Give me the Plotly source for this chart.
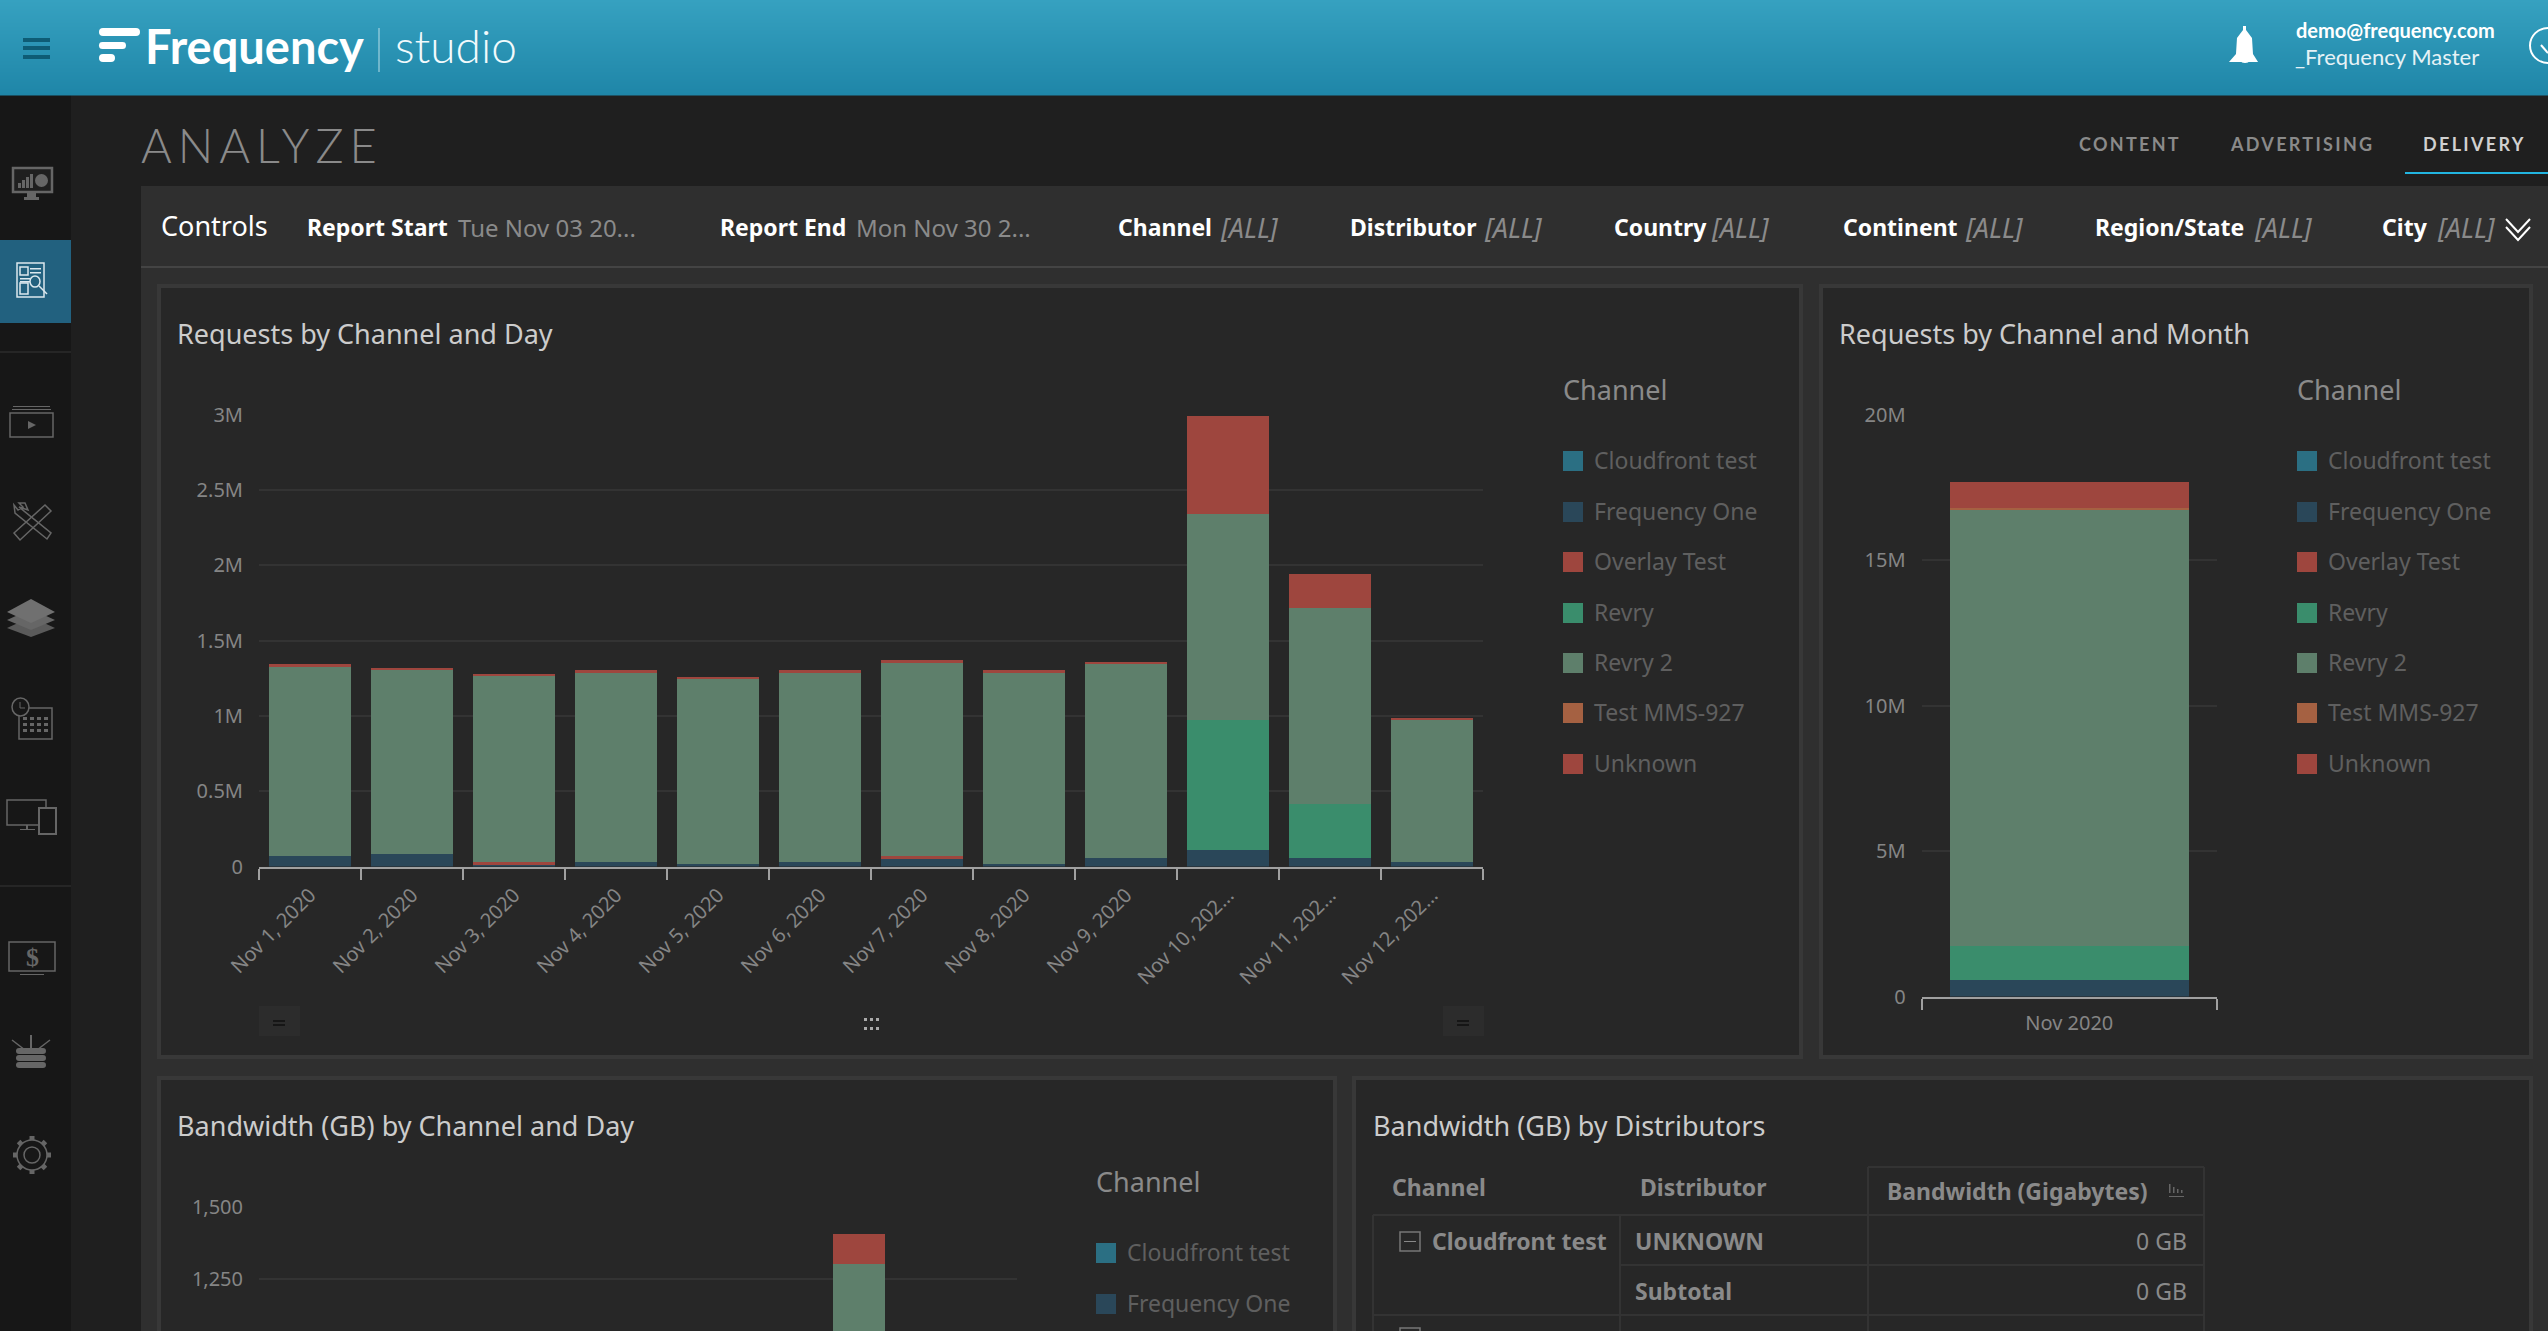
import math
import plotly.graph_objects as go

W = 2548
H = 1331

channels = ["Cloudfront test", "Frequency One", "Overlay Test", "Revry", "Revry 2", "Test MMS-927", "Unknown"]
channel_colors = ["#2b6f83", "#2a4759", "#9e463e", "#3a8d6c", "#5e7f6b", "#a56142", "#9e463e"]

# requests per day
days = ["Nov 1, 2020", "Nov 2, 2020", "Nov 3, 2020", "Nov 4, 2020", "Nov 5, 2020", "Nov 6, 2020",
        "Nov 7, 2020", "Nov 8, 2020", "Nov 9, 2020", "Nov 10, 202...", "Nov 11, 202...", "Nov 12, 202..."]
day_cloudfront = [0, 0, 0, 0, 0, 0, 0, 0, 0, 0, 0, 0]
day_frequency = [69000, 83000, 17000, 32000, 17000, 32000, 58000, 17000, 58000, 109000, 58000, 32000]
day_overlay = [0, 0, 13000, 0, 0, 0, 12000, 0, 0, 0, 0, 0]
day_revry = [0, 0, 0, 0, 0, 0, 0, 0, 0, 864000, 357000, 0]
day_revry2 = [1261000, 1221000, 1234000, 1261000, 1233000, 1261000, 1289000, 1276000, 1287000, 1368000, 1301000, 941000]
day_mms = [0, 0, 0, 0, 0, 0, 0, 0, 0, 0, 0, 0]
day_unknown = [12000, 15000, 14000, 11000, 11000, 11000, 11000, 11000, 14000, 651000, 228000, 15000]
day_ticks = [0, 500000, 1000000, 1500000, 2000000, 2500000, 3000000]
day_labels = ["0", "0.5M", "1M", "1.5M", "2M", "2.5M", "3M"]

# requests per month
months = ["Nov 2020"]
month_values = [[0], [567000], [0], [1167000], [15000000], [70000], [900000]]
month_ticks = [0, 5000000, 10000000, 15000000, 20000000]
month_labels = ["0", "5M", "10M", "15M", "20M"]

# bandwidth, only the top of the Nov 10 bar is on screen
band_frequency = [None] * 9 + [40, None, None]
band_revry = [None] * 9 + [420, None, None]
band_revry2 = [None] * 9 + [842, None, None]
band_unknown = [None] * 9 + [104, None, None]
band_ticks = [1250, 1500]
band_labels = ["1,250", "1,500"]

table_rows = [["UNKNOWN", "0 GB"], ["Subtotal", "0 GB"]]

filters = [("Report Start", 307, "Tue Nov 03 20...", 458, False), ("Report End", 720, "Mon Nov 30 2...", 856, False),
           ("Channel", 1118, "[ALL]", 1220, True), ("Distributor", 1350, "[ALL]", 1484, True),
           ("Country", 1614, "[ALL]", 1711, True), ("Continent", 1843, "[ALL]", 1965, True),
           ("Region/State", 2095, "[ALL]", 2254, True), ("City", 2382, "[ALL]", 2437, True)]

FONT = "Noto Sans"
shapes = []
notes = []


def px(x):
    return x / W


def py(y):
    return 1 - y / H


def rect(x0, y0, x1, y1, fill="rgba(0,0,0,0)", line=None, lw=2):
    shapes.append(dict(type="rect", xref="paper", yref="paper", layer="below",
                       x0=px(x0), x1=px(x1), y0=py(y1), y1=py(y0), fillcolor=fill,
                       line=dict(color=line or "rgba(0,0,0,0)", width=lw if line else 0)))


def circle(x0, y0, x1, y1, fill="rgba(0,0,0,0)", line=None, lw=2):
    shapes.append(dict(type="circle", xref="paper", yref="paper", layer="below",
                       x0=px(x0), x1=px(x1), y0=py(y1), y1=py(y0), fillcolor=fill,
                       line=dict(color=line or "rgba(0,0,0,0)", width=lw if line else 0)))


def poly(points, fill="rgba(0,0,0,0)", line=None, lw=2, close=False):
    d = "M " + " L ".join(f"{px(a):.5f},{py(b):.5f}" for a, b in points)
    if close:
        d += " Z"
    shapes.append(dict(type="path", xref="paper", yref="paper", layer="below", path=d, fillcolor=fill,
                       line=dict(color=line or "rgba(0,0,0,0)", width=lw if line else 0)))


def pill(x0, y0, x1, y1, fill):
    r = (y1 - y0) / 2
    d = (f"M {px(x0 + r):.5f},{py(y0):.5f} L {px(x1 - r):.5f},{py(y0):.5f} "
         f"Q {px(x1):.5f},{py(y0):.5f} {px(x1):.5f},{py(y0 + r):.5f} "
         f"Q {px(x1):.5f},{py(y1):.5f} {px(x1 - r):.5f},{py(y1):.5f} "
         f"L {px(x0 + r):.5f},{py(y1):.5f} "
         f"Q {px(x0):.5f},{py(y1):.5f} {px(x0):.5f},{py(y0 + r):.5f} "
         f"Q {px(x0):.5f},{py(y0):.5f} {px(x0 + r):.5f},{py(y0):.5f} Z")
    shapes.append(dict(type="path", xref="paper", yref="paper", layer="below", path=d,
                       fillcolor=fill, line=dict(width=0)))


def label(x, y, text, size, color, anchor="left", family=FONT, weight=None, italic=False):
    font = dict(family=family, size=size, color=color)
    if weight:
        font["weight"] = weight
    if italic:
        font["style"] = "italic"
    notes.append(dict(xref="paper", yref="paper", x=px(x), y=py(y - 1), text=text, showarrow=False,
                      xanchor=anchor, yanchor="middle", align=anchor, font=font, borderpad=0, borderwidth=0))


# page background
rect(0, 0, W, H, "#1f1f1f")
rect(0, 95, 71, H, "#171717")
rect(141, 186, W, H, "#2f2f2f")
rect(141, 266, W, 268, "#444444")

# header, gradient made of strips
c0 = (54, 161, 192)
c1 = (31, 134, 168)
for i in range(95):
    t = i / 94
    col = "rgb(%d,%d,%d)" % tuple(round(a + (b - a) * t) for a, b in zip(c0, c1))
    rect(0, i, W, i + 1.5, col)

for y0 in [38, 46, 55]:
    rect(23, y0, 50, y0 + 4, "#0e5c75")
pill(99, 28, 140, 36, "#ffffff")
pill(99, 42, 126, 49, "#ffffff")
pill(99, 54, 115, 62, "#ffffff")
rect(378.5, 28, 379.5, 72, "#b8dde8")
label(145, 47, "Frequency", 47, "#ffffff", family="Lato", weight=700)
label(395, 47, "studio", 46, "#f2fafc", family="Lato", weight=300)

# bell
poly([(2229, 62), (2236, 54), (2237, 38), (2243, 30), (2243, 26), (2246, 26), (2246, 30), (2252, 38), (2253, 54), (2258, 62)],
     fill="#ffffff", close=True)
circle(2241, 58, 2249, 63, "#ffffff")
label(2296, 31, "demo@frequency.com", 20, "#ffffff", family="Lato", weight=700)
label(2295, 58, "_Frequency Master", 22, "#e6f2f6", family="Lato", weight=400)
circle(2530, 28, 2566, 63, line="#ffffff", lw=2)
poly([(2541, 45), (2548, 53)], line="#ffffff", lw=2)

# sidebar
rect(0, 240, 71, 323, "#22617f")
rect(0, 351, 71, 353, "#262626")
rect(0, 885, 71, 887, "#262626")
ic = "#666666"
rect(13, 168, 52, 192, "#1f1f1f", ic, 2.5)
rect(27, 193, 36, 197, ic)
rect(24, 197, 39, 200, ic)
for bx, bh in zip([18, 22, 26, 30], [5, 8, 11, 14]):
    rect(bx, 188 - bh, bx + 3, 188, ic)
circle(35, 174, 48, 187, ic)
wh = "#dbe8ee"
rect(17, 263, 44, 297, line=wh, lw=1.5)
rect(20, 267, 28, 275, line=wh, lw=1.5)
rect(20, 283, 28, 294, line=wh, lw=1.5)
for ly in [268, 272, 278, 281]:
    rect(30 if ly < 276 else 20, ly, 41 if ly < 276 else 30, ly + 1.5, wh)
circle(30, 276, 40, 287, line=wh, lw=1.5)
poly([(39, 286), (47, 294)], line=wh, lw=1.5)
rect(10, 413, 53, 437, line=ic, lw=1.5)
rect(13, 406, 50, 407, ic)
rect(12, 409, 51, 410, ic)
poly([(28, 421), (36, 425), (28, 429)], fill=ic, close=True)
# wrench and ruler
poly([(19, 507), (51, 533), (47, 539), (15, 513), (14, 505), (18, 510), (23, 507), (19, 503), (25, 503), (28, 510)], line=ic, lw=1.5, close=True)
poly([(14, 533), (45, 505), (51, 511), (20, 540)], line=ic, lw=1.5, close=True)
poly([(7, 628), (31, 617), (55, 628), (31, 637)], fill="#5a5a5a", close=True)
poly([(7, 620), (31, 609), (55, 620), (31, 630)], fill="#666666", close=True)
poly([(7, 612), (31, 599), (55, 612), (31, 623)], fill="#707070", close=True)
rect(19, 708, 52, 739, "#171717", ic, 1.5)
circle(12, 698, 29, 716, "#171717", ic, 1.5)
poly([(20, 702), (20, 708), (25, 708)], line=ic, lw=1)
for cy in [717, 723, 729]:
    for cx in [23, 30, 37, 44]:
        rect(cx, cy, cx + 4, cy + 3, ic)
rect(7, 800, 46, 825, line=ic, lw=1.5)
rect(20, 829, 35, 830, ic)
rect(26, 825, 28, 829, ic)
rect(39, 808, 56, 834, "#171717", ic, 2)
rect(9, 942, 55, 971, line=ic, lw=1.5)
label(32, 958, "$", 26, ic, anchor="center", family="Liberation Serif", weight=700)
rect(20, 974, 44, 975, ic)
for sy in [1048, 1055, 1062]:
    pill(16, sy, 46, sy + 6, ic)
poly([(31, 1035), (31, 1049)], line=ic, lw=2)
poly([(12, 1040), (25, 1050)], line=ic, lw=1.5)
poly([(50, 1040), (37, 1050)], line=ic, lw=1.5)
for k in range(8):
    a = k * math.pi / 4
    poly([(32 + 15 * math.cos(a), 1155 + 15 * math.sin(a)), (32 + 19 * math.cos(a), 1155 + 19 * math.sin(a))], line=ic, lw=5)
circle(17, 1140, 47, 1170, "#171717", ic, 1.5)
circle(24, 1147, 40, 1163, line=ic, lw=1.5)

# title row and tabs
label(141, 146, "ANALYZE", 47, "#8a8a8a", family="Lato", weight=300)
label(2079, 145, "CONTENT", 18, "#8a8a8a", family="Lato", weight=700)
label(2230, 145, "ADVERTISING", 18, "#8a8a8a", family="Lato", weight=700)
label(2423, 145, "DELIVERY", 18, "#d0d0d0", family="Lato", weight=700)
rect(2405, 172, W, 174, "#22b5e0")

# controls
label(161, 227, "Controls", 27, "#ffffff")
for name, x0, val, x1, ital in filters:
    label(x0, 228, name, 23, "#ffffff", weight=700)
    label(x1, 228, val, 27 if ital else 24, "#8a8a8a", italic=ital)
poly([(2506, 219), (2518, 232), (2530, 219)], line="#ffffff", lw=2)
poly([(2506, 227), (2518, 240), (2530, 227)], line="#ffffff", lw=2)

# panels
PANEL = "#272727"
BORDER = "#383838"
for x0, y0, x1, y1 in [(159, 286, 1801, 1057), (1821, 286, 2531, 1057), (159, 1078, 1335, H + 20), (1354, 1078, 2531, H + 20)]:
    rect(x0, y0, x1, y1, PANEL, BORDER, 4)

label(177, 334, "Requests by Channel and Day", 27, "#cccccc")
label(1839, 334, "Requests by Channel and Month", 27, "#cccccc")
label(177, 1126, "Bandwidth (GB) by Channel and Day", 27, "#cccccc")
label(1373, 1126, "Bandwidth (GB) by Distributors", 27, "#cccccc")

# legends
item_y = [461, 512, 562, 613, 663, 713, 764]
for lx, title_y, ys in [(1563, 390, item_y), (2297, 390, item_y), (1096, 1182, [1253, 1304])]:
    label(lx, title_y, "Channel", 27, "#8a8a8a")
    for name, col, ly in zip(channels, channel_colors, ys):
        rect(lx, ly - 10, lx + 20, ly + 10, col)
        label(lx + 31, ly, name, 23, "#5f5f5f")

# range handles under the day chart
for x0 in [259, 1443]:
    rect(x0, 1006, x0 + 41, 1036, "#2c2c2c")
    rect(x0 + 14, 1020, x0 + 26, 1022, "#161616")
    rect(x0 + 14, 1024, x0 + 26, 1026, "#161616")
for dx in [864, 870, 876]:
    for dy in [1018, 1027]:
        rect(dx, dy, dx + 3, dy + 3, "#aaaaaa")

# table
TL = "#333333"
for lx in [1373, 1620, 1868, 2204]:
    rect(lx - 1, 1215, lx + 1, H, TL)
rect(1868 - 1, 1167, 1868 + 1, 1215, TL)
rect(2204 - 1, 1167, 2204 + 1, 1215, TL)
rect(1868, 1166, 2204, 1168, TL)
rect(1373, 1214, 2204, 1216, TL)
rect(1620, 1264, 2204, 1266, TL)
rect(1373, 1314, 2204, 1316, TL)
label(1392, 1188, "Channel", 23, "#8a8a8a", weight=700)
label(1640, 1188, "Distributor", 23, "#8a8a8a", weight=700)
label(1887, 1192, "Bandwidth (Gigabytes)", 23, "#8a8a8a", weight=700)
for k, bh in enumerate([9, 6, 4, 3]):
    rect(2169 + k * 4, 1193 - bh, 2170.5 + k * 4, 1193, "#666666")
rect(2169, 1196, 2184, 1197, "#666666")
rect(1400, 1232, 1420, 1251, line="#777777", lw=1.5)
rect(1404, 1241, 1416, 1242, "#888888")
label(1432, 1242, channels[0], 23, "#8a8a8a", weight=700)
for row, ry in zip(table_rows, [1242, 1292]):
    label(1635, ry, row[0], 23, "#8a8a8a", weight=700)
    label(2187, ry, row[1], 23, "#8a8a8a", anchor="right")
rect(1400, 1328, 1420, H + 5, line="#777777", lw=1.5)

fig = go.Figure()

day_series = [day_cloudfront, day_frequency, day_overlay, day_revry, day_revry2, day_mms, day_unknown]
for name, col, vals in zip(channels, channel_colors, day_series):
    fig.add_trace(go.Bar(x=days, y=vals, name=name, marker=dict(color=col, line=dict(width=0)),
                         showlegend=False, xaxis="x", yaxis="y"))
for name, col, vals in zip(channels, channel_colors, month_values):
    fig.add_trace(go.Bar(x=months, y=vals, name=name, width=0.81, marker=dict(color=col, line=dict(width=0)),
                         showlegend=False, xaxis="x2", yaxis="y2"))
band_series = [band_frequency, band_revry, band_revry2, band_unknown]
band_idx = [1, 3, 4, 6]
for i, vals in zip(band_idx, band_series):
    fig.add_trace(go.Bar(x=days, y=vals, name=channels[i], width=0.83,
                         marker=dict(color=channel_colors[i], line=dict(width=0)),
                         showlegend=False, xaxis="x3", yaxis="y3"))

tick_font = dict(family=FONT, size=20, color="#858585")
x_common = dict(type="category", tickson="boundaries", ticks="outside", ticklen=11, tickwidth=2,
                tickcolor="#a0a0a0", showline=True, linecolor="#a0a0a0", linewidth=2, showgrid=False,
                tickfont=tick_font, automargin=False, zeroline=False, ticklabelstandoff=7)
y_common = dict(showgrid=True, gridcolor="#333333", gridwidth=2, zeroline=False, ticks="outside",
                ticklen=11, tickcolor="rgba(0,0,0,0)", tickfont=tick_font, automargin=False, showline=False)

fig.update_layout(
    width=W, height=H, margin=dict(l=0, r=0, t=0, b=0, pad=0), autosize=False,
    paper_bgcolor="#1f1f1f", plot_bgcolor="rgba(0,0,0,0)", barmode="stack", bargap=0.2,
    showlegend=False, shapes=shapes, annotations=notes,
    xaxis=dict(domain=[px(259), px(1483)], anchor="y", tickangle=-45, **x_common),
    yaxis=dict(domain=[py(866.6), py(414.7)], anchor="x", range=[0, 3000000],
               tickmode="array", tickvals=day_ticks, ticktext=day_labels, **y_common),
    xaxis2=dict(domain=[px(1921.6), px(2217)], anchor="y2", tickangle=0, **x_common),
    yaxis2=dict(domain=[py(996.5), py(415)], anchor="x2", range=[0, 20000000],
                tickmode="array", tickvals=month_ticks, ticktext=month_labels, **y_common),
    xaxis3=dict(domain=[px(259), px(1017)], anchor="y3", type="category", visible=False, categoryorder="array", categoryarray=days),
    yaxis3=dict(domain=[0, py(1206.7)], anchor="x3", range=[1070, 1500],
                tickmode="array", tickvals=band_ticks, ticktext=band_labels, **y_common),
)

spacing = """
document.documentElement.style.overflow = 'hidden';
document.body.style.margin = '0';
document.body.style.overflow = 'hidden';
var spaced = {'ANALYZE': '6px', 'CONTENT': '2.3px', 'ADVERTISING': '2.3px', 'DELIVERY': '2.3px'};
document.querySelectorAll('.annotation-text').forEach(function (t) {
  if (spaced[t.textContent]) { t.style.letterSpacing = spaced[t.textContent]; }
});
"""
fig.write_html("out.html", post_script=spacing, config=dict(displayModeBar=False))
